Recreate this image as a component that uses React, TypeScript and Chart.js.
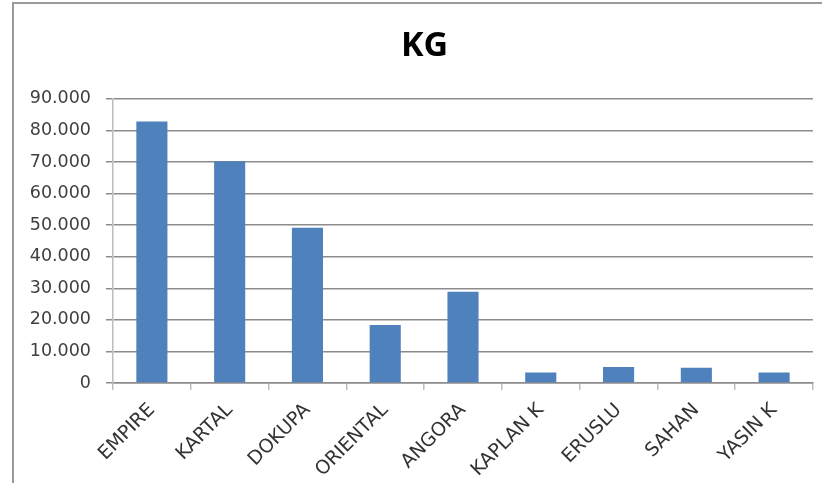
import { useEffect, useRef } from "react";
import { Chart, registerables } from "chart.js";
import type { Plugin } from "chart.js";

Chart.register(...registerables);

const categories = ["EMPIRE", "KARTAL", "DOKUPA", "ORIENTAL", "ANGORA", "KAPLAN K", "ERUSLU", "SAHAN", "YASIN K"];
const kgValues = [82800, 70200, 49200, 18400, 28900, 3300, 5100, 4800, 3300];
const yMin = 0;
const yMax = 90000;
const yStep = 10000;

const formatKg = (v: number) => String(Math.round(v)).replace(/\B(?=(\d{3})+(?!\d))/g, ".");

// the title in the original is centred on the whole frame, not on the plot
const shiftTitle: Plugin<"bar"> = {
  id: "shiftTitle",
  afterLayout(chart) {
    const t = (chart as any).titleBlock;
    if (t) t.left += 36;
  },
};

export default function App() {
  const chartRef = useRef<HTMLCanvasElement>(null);
  const chartInstance = useRef<Chart | null>(null);

  useEffect(() => {
    if (!chartRef.current) return;
    const ctx = chartRef.current.getContext("2d");
    if (!ctx) return;

    chartInstance.current = new Chart(ctx, {
      type: "bar",
      data: {
        labels: categories,
        datasets: [
          {
            label: "KG",
            data: kgValues,
            backgroundColor: "#4f81bd",
            barPercentage: 0.4,
            categoryPercentage: 1,
          },
        ],
      },
      plugins: [shiftTitle],
      options: {
        animation: false,
        responsive: false,
        layout: { padding: { top: 26, right: 9, left: 0, bottom: 0 } },
        scales: {
          x: {
            afterFit: (s) => {
              s.height = 100;
            },
            border: { color: "#8c8c8c", width: 1.5 },
            grid: { drawOnChartArea: false, color: "#bdbdbd", tickLength: 7, lineWidth: 1.5 },
            ticks: {
              color: "#333",
              font: { family: "DejaVu Sans", size: 19 },
              minRotation: 45,
              maxRotation: 45,
              autoSkip: false,
              padding: 9,
            },
          },
          y: {
            min: yMin,
            max: yMax,
            afterFit: (s) => {
              s.width = 113;
            },
            border: { color: "#bdbdbd", width: 1.5 },
            grid: { color: "#8c8c8c", tickLength: 7, lineWidth: 1.5 },
            ticks: {
              stepSize: yStep,
              color: "#404040",
              font: { family: "DejaVu Sans", size: 17.5 },
              padding: 15,
              callback: (v) => formatKg(Number(v)),
            },
          },
        },
        plugins: {
          legend: { display: false },
          tooltip: { enabled: false },
          title: {
            display: true,
            text: "KG",
            color: "#000",
            font: { family: "Open Sans", size: 34, weight: "bold" },
            padding: { top: 0, bottom: 32 },
          },
        },
      },
    });

    return () => {
      chartInstance.current?.destroy();
    };
  }, []);

  return (
    <div style={{ position: "fixed", left: 0, top: 0, width: 822, height: 483, background: "#fff" }}>
      <div
        style={{
          position: "absolute",
          left: 12,
          top: 2,
          right: 0,
          bottom: 0,
          borderLeft: "2px solid #9a9a9a",
          borderTop: "2px solid #9a9a9a",
        }}
      />
      <canvas ref={chartRef} width={822} height={483} style={{ position: "absolute", left: 0, top: 0 }} />
    </div>
  );
}
